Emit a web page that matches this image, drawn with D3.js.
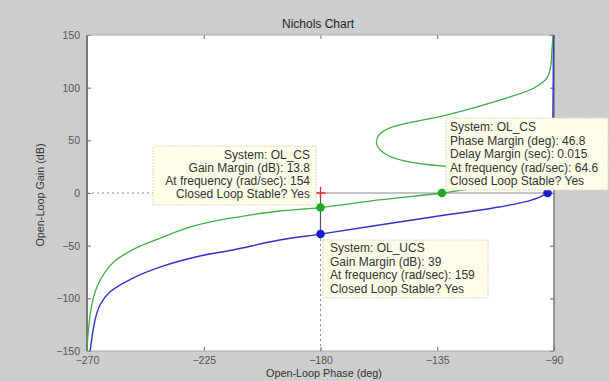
<!DOCTYPE html>
<html><head><meta charset="utf-8">
<script src="https://cdn.jsdelivr.net/npm/d3@7"></script>
<style>
html,body{margin:0;padding:0;background:#cdcdcd;}
svg{display:block;}
text{font-family:"Liberation Sans",Arial,sans-serif;}
</style></head>
<body>
<script>
// ---- data ----
const phaseTicks = [-270, -225, -180, -135, -90];
const gainTicks = [150, 100, 50, 0, -50, -100, -150];

const olUcsPhase = [-268.8,-266.9,-265,-261.2,-252.3,-241.9,-226.5,-213.8,-195.8,-180,-162.3,-136.9,-111.2,-98.5,-93.1,-91.5,-90.8,-90.4,-90.2];
const olUcsGain  = [-150,-120.6,-106.3,-94,-80.7,-70.3,-59.8,-54.1,-44.6,-39,-32.3,-22.8,-13.3,-6.6,0,15,40,80,150];

const olCsPhase = [-270,-269.6,-268.8,-267.6,-266,-263,-259.5,-255,-249.6,-242,-230.4,-221.5,-207.3,-195.8,-180,-157.3,-133.2,-122.7,-107.3,-97.7,-94,-96,-111,-132.3,-147.7,-155,-158.3,-157.5,-153,-131.5,-111.2,-97.7,-92.7,-91.2,-90.8,-90.4];
const olCsGain  = [-150,-134.8,-115.8,-100,-88,-75,-65,-57.5,-50.5,-43,-32.5,-27,-21,-17.1,-13.8,-6.6,0,3.8,9.5,15.2,20,23.5,25.5,25.6,30.4,37,46,55,62,74,88,99.7,109.2,121.5,135.8,150];

// marker points: [phase, gain]
const gmCsPoint = [-180, -13.8];
const gmUcsPoint = [-180, -39];
const pmCsPoint = [-133.2, 0];
const pmUcsPoint = [-92.5, 0];
const criticalPoint = [-180, 0];

const gmCsText = ["System: OL_CS", "Gain Margin (dB): 13.8", "At frequency (rad/sec): 154", "Closed Loop Stable? Yes"];
const gmUcsText = ["System: OL_UCS", "Gain Margin (dB): 39", "At frequency (rad/sec): 159", "Closed Loop Stable? Yes"];
const pmCsText = ["System: OL_CS", "Phase Margin (deg): 46.8", "Delay Margin (sec): 0.015", "At frequency (rad/sec): 64.6", "Closed Loop Stable? Yes"];

// ---- layout ----
const W = 609, H = 381;
const L = 87, R = 554, T = 35, B = 351;
const svg = d3.select("body").append("svg").attr("width", W).attr("height", H);

const x = d3.scaleLinear().domain([-270, -90]).range([L, R]);
const y = d3.scaleLinear().domain([-150, 150]).range([B, T]);

svg.append("rect").attr("x", L).attr("y", T).attr("width", R - L).attr("height", B - T).attr("fill", "#ffffff");

svg.append("defs").append("clipPath").attr("id", "clip")
  .append("rect").attr("x", L).attr("y", T - 1).attr("width", R - L + 1).attr("height", B - T + 2);

// axes
const tickCol = "#666";
const xAxisB = d3.axisBottom(x).tickValues(phaseTicks).tickSize(-4).tickPadding(6).tickFormat(d3.format("d"));
const xAxisT = d3.axisTop(x).tickValues(phaseTicks).tickSize(-4).tickFormat("");
const yAxisL = d3.axisLeft(y).tickValues(gainTicks).tickSize(-4).tickPadding(7).tickFormat(d3.format("d"));
const yAxisR = d3.axisRight(y).tickValues(gainTicks).tickSize(-4).tickFormat("");

function styleAxis(g) {
  g.select(".domain").remove();
  g.selectAll(".tick line").attr("stroke", tickCol);
  g.selectAll(".tick text").attr("fill", "#555").attr("font-size", 10.5).attr("font-family", "Liberation Sans, Arial, sans-serif");
}
svg.append("g").attr("transform", `translate(0,${B})`).call(xAxisB).call(styleAxis);
svg.append("g").attr("transform", `translate(0,${T})`).call(xAxisT).call(styleAxis);
svg.append("g").attr("transform", `translate(${L},0)`).call(yAxisL).call(styleAxis);
svg.append("g").attr("transform", `translate(${R},0)`).call(yAxisR).call(styleAxis);

// box edges
svg.append("line").attr("x1", L).attr("x2", L).attr("y1", T).attr("y2", B).attr("stroke", "#777").attr("stroke-width", 2);
svg.append("line").attr("x1", R).attr("x2", R).attr("y1", T).attr("y2", B).attr("stroke", "#777").attr("stroke-width", 1.5);
svg.append("line").attr("x1", L).attr("x2", R).attr("y1", T).attr("y2", T).attr("stroke", "#aaa").attr("stroke-width", 1);
svg.append("line").attr("x1", L).attr("x2", R).attr("y1", B).attr("y2", B).attr("stroke", "#aaa").attr("stroke-width", 1);

// reference lines
const plot = svg.append("g").attr("clip-path", "url(#clip)");
plot.append("line").attr("x1", x(-270)).attr("x2", x(criticalPoint[0])).attr("y1", y(0)).attr("y2", y(0))
  .attr("stroke", "#888").attr("stroke-dasharray", "2,3");
plot.append("line").attr("x1", x(criticalPoint[0])).attr("x2", x(-90)).attr("y1", y(0)).attr("y2", y(0))
  .attr("stroke", "#888").attr("stroke-width", 1);
plot.append("line").attr("x1", x(-180)).attr("x2", x(-180)).attr("y1", y(0)).attr("y2", y(gmUcsPoint[1]))
  .attr("stroke", "#555").attr("stroke-width", 1.2);
plot.append("line").attr("x1", x(-180)).attr("x2", x(-180)).attr("y1", y(gmUcsPoint[1])).attr("y2", y(-150))
  .attr("stroke", "#888").attr("stroke-dasharray", "2,3");

// curves
const line = d3.line().x(d => x(d[0])).y(d => y(d[1])).curve(d3.curveCatmullRom.alpha(0.5));
const ucs = olUcsPhase.map((p, i) => [p, olUcsGain[i]]);
const cs = olCsPhase.map((p, i) => [p, olCsGain[i]]);
plot.append("path").attr("d", line(ucs)).attr("fill", "none").attr("stroke", "#3030cc").attr("stroke-width", 1.4);
plot.append("path").attr("d", line(cs)).attr("fill", "none").attr("stroke", "#44aa44").attr("stroke-width", 1.3);

// critical point
const cx = x(criticalPoint[0]), cy = y(criticalPoint[1]);
svg.append("path").attr("d", `M${cx - 5},${cy}H${cx + 5}M${cx},${cy - 6}V${cy + 5}`).attr("stroke", "#e03030").attr("stroke-width", 1.3);

// markers
function marker(pt, col) {
  svg.append("circle").attr("cx", x(pt[0])).attr("cy", y(pt[1])).attr("r", 4.3).attr("fill", col);
}
marker(gmCsPoint, "#22aa22");
marker(pmCsPoint, "#22aa22");
marker(gmUcsPoint, "#1a1ad0");
marker(pmUcsPoint, "#1a1ad0");

// data tip boxes
function tip(x0, y0, w, h, lines, anchor, tx, ty0, dy) {
  svg.append("rect").attr("x", x0).attr("y", y0).attr("width", w).attr("height", h)
    .attr("fill", "#fdfde8").attr("stroke", "#d8d8c8").attr("stroke-width", 1).attr("stroke-dasharray", "2,1");
  lines.forEach((t, i) => {
    svg.append("text").attr("x", tx).attr("y", ty0 + i * dy).attr("text-anchor", anchor)
      .attr("font-size", 12).attr("fill", "#333").text(t);
  });
}
tip(153, 146, 163, 59, gmCsText, "end", 310, 159, 13);
tip(323, 240, 165, 58, gmUcsText, "start", 330, 252, 13.5);
tip(446, 118, 162, 72, pmCsText, "start", 450, 131, 13.5);

// titles
svg.append("text").attr("x", 318).attr("y", 28).attr("text-anchor", "middle").attr("font-size", 12).attr("fill", "#222").text("Nichols Chart");
svg.append("text").attr("x", 324).attr("y", 377).attr("text-anchor", "middle").attr("font-size", 10.8).attr("fill", "#333").text("Open-Loop Phase (deg)");
svg.append("text").attr("transform", "translate(44,195) rotate(-90)").attr("text-anchor", "middle").attr("font-size", 10.8).attr("fill", "#333").text("Open-Loop Gain (dB)");
</script>
</body></html>
